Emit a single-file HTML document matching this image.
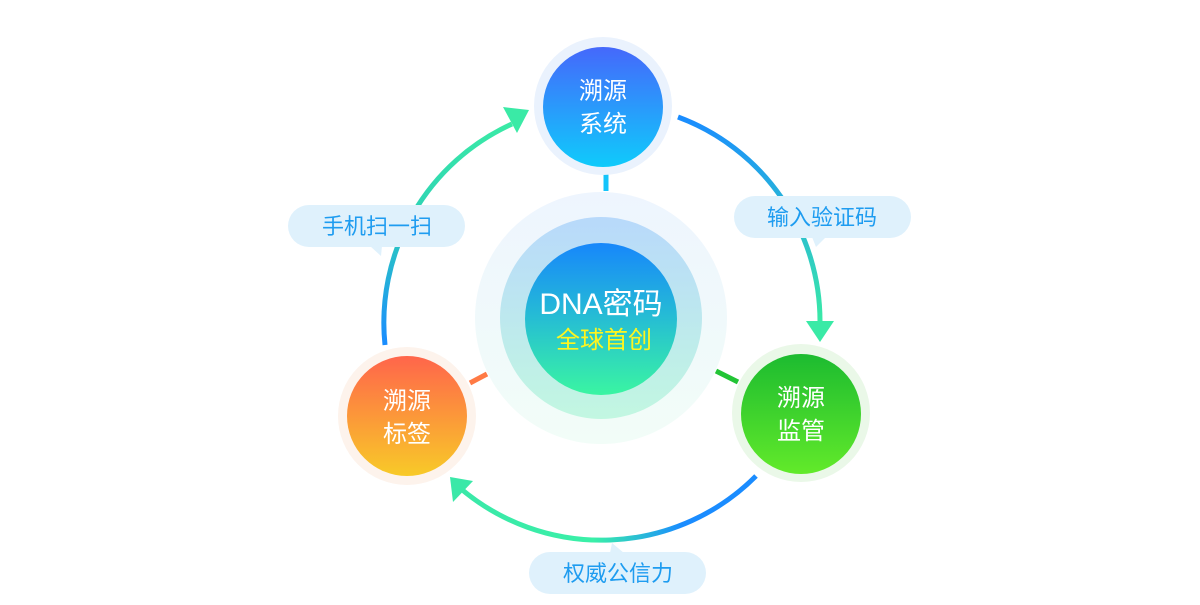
<!DOCTYPE html>
<html><head><meta charset="utf-8"><style>
body{margin:0;background:#fff;}
svg text{font-family:"Liberation Sans","Noto Sans CJK SC",sans-serif;}
</style></head><body>
<svg width="1200" height="600" viewBox="0 0 1200 600" xmlns="http://www.w3.org/2000/svg">
<defs>
<linearGradient id="gL" x1="0" y1="1" x2="0" y2="0"><stop offset="0" stop-color="#1a8cff"/><stop offset="0.6" stop-color="#2ed3b5"/><stop offset="1" stop-color="#3aeaa6"/></linearGradient>
<linearGradient id="gR" x1="0" y1="0" x2="0" y2="1"><stop offset="0" stop-color="#1a8cff"/><stop offset="1" stop-color="#3aeaa6"/></linearGradient>
<linearGradient id="gB" x1="1" y1="0" x2="0" y2="0"><stop offset="0" stop-color="#1a8cff"/><stop offset="0.25" stop-color="#1a8cff"/><stop offset="0.55" stop-color="#3af0a8"/><stop offset="1" stop-color="#3ae8a8"/></linearGradient>
<linearGradient id="halo" x1="0" y1="0" x2="0" y2="1"><stop offset="0" stop-color="#eef5fe"/><stop offset="1" stop-color="#f2fdf8"/></linearGradient>
<linearGradient id="mid" x1="0" y1="0" x2="0" y2="1"><stop offset="0" stop-color="#b8d9fb"/><stop offset="1" stop-color="#c2f7e1"/></linearGradient>
<linearGradient id="inn" x1="0" y1="0" x2="0" y2="1"><stop offset="0" stop-color="#1787fb"/><stop offset="0.5" stop-color="#26bed3"/><stop offset="1" stop-color="#3af5a2"/></linearGradient>
<linearGradient id="nT" x1="0" y1="0" x2="0" y2="1"><stop offset="0" stop-color="#4568fb"/><stop offset="1" stop-color="#0fcbfb"/></linearGradient>
<linearGradient id="nL" x1="0" y1="0" x2="0" y2="1"><stop offset="0" stop-color="#ff654b"/><stop offset="1" stop-color="#f8ca28"/></linearGradient>
<linearGradient id="nR" x1="0" y1="0" x2="0" y2="1"><stop offset="0" stop-color="#1cbb30"/><stop offset="1" stop-color="#62ea2a"/></linearGradient>
</defs>

<path d="M385 345 A218 218 0 0 1 512 124" fill="none" stroke="url(#gL)" stroke-width="5"/>
<polygon points="503,107 529,110 517,133" fill="#3aeaa6"/>
<path d="M678 117 A218 218 0 0 1 820 322" fill="none" stroke="url(#gR)" stroke-width="5"/>
<polygon points="806,321 834,321 820,342" fill="#3aeaa6"/>
<path d="M756 476 A218 218 0 0 1 460 488" fill="none" stroke="url(#gB)" stroke-width="5"/>
<polygon points="450,477 473,481 453,502" fill="#3ae8a8"/>

<line x1="606" y1="165" x2="606" y2="191" stroke="#14c4fb" stroke-width="5"/>
<line x1="470" y1="383" x2="487" y2="374" stroke="#ff7a45" stroke-width="5"/>
<line x1="716" y1="371" x2="738" y2="382" stroke="#22c435" stroke-width="5"/>

<circle cx="601" cy="318" r="126" fill="url(#halo)"/>
<circle cx="601" cy="318" r="101" fill="url(#mid)"/>
<circle cx="601" cy="319" r="76" fill="url(#inn)"/>
<text x="601" y="314" text-anchor="middle" font-size="30" fill="#fff">DNA密码</text>
<text x="604" y="348" text-anchor="middle" font-size="24" fill="#fff51e">全球首创</text>

<circle cx="603" cy="106" r="69" fill="#eaf2fd"/>
<circle cx="603" cy="107" r="60" fill="url(#nT)"/>
<text x="603" y="99" text-anchor="middle" font-size="24" fill="#fff">溯源</text>
<text x="603" y="132" text-anchor="middle" font-size="24" fill="#fff">系统</text>

<circle cx="407" cy="416" r="69" fill="#fdf3ec"/>
<circle cx="407" cy="416" r="60" fill="url(#nL)"/>
<text x="407" y="409" text-anchor="middle" font-size="24" fill="#fff">溯源</text>
<text x="407" y="442" text-anchor="middle" font-size="24" fill="#fff">标签</text>

<circle cx="801" cy="413" r="69" fill="#eaf8e8"/>
<circle cx="801" cy="414" r="60" fill="url(#nR)"/>
<text x="801" y="406" text-anchor="middle" font-size="24" fill="#fff">溯源</text>
<text x="801" y="439" text-anchor="middle" font-size="24" fill="#fff">监管</text>

<rect x="288" y="205" width="177" height="42" rx="21" fill="#dff1fc"/>
<polygon points="370,246 382,246 381,256" fill="#dff1fc"/>
<text x="377" y="234" text-anchor="middle" font-size="22" fill="#1e9cf0">手机扫一扫</text>

<rect x="734" y="196" width="177" height="42" rx="21" fill="#dff1fc"/>
<polygon points="812,237 826,237 816,247" fill="#dff1fc"/>
<text x="822" y="225" text-anchor="middle" font-size="22" fill="#1e9cf0">输入验证码</text>

<rect x="529" y="552" width="177" height="42" rx="21" fill="#dff1fc"/>
<polygon points="610,553 624,553 612,543" fill="#dff1fc"/>
<text x="618" y="581" text-anchor="middle" font-size="22" fill="#1e9cf0">权威公信力</text>
</svg>
</body></html>
